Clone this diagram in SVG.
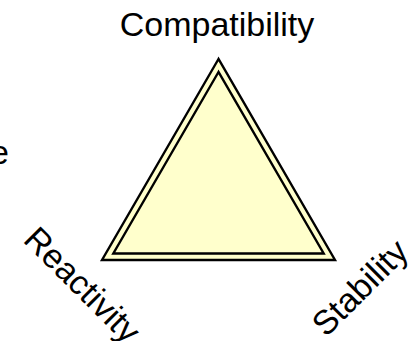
<svg xmlns="http://www.w3.org/2000/svg" width="413" height="341" viewBox="0 0 413 341">
<style>
.lbl{font-family:"Liberation Sans",Arial,sans-serif;font-size:34px;fill:#000}
.tri{fill:#FFFFCC;stroke:#000;stroke-width:2.4;stroke-linejoin:miter}
</style>
<rect width="413" height="341" fill="#fff"/>
<g id="triangle">
<polygon class="tri" points="218.5,59 102,260 335,260"/>
<polygon class="tri" points="218.5,72 113.3,253.5 323.7,253.5"/>
</g>
<g id="label-compatibility"><text class="lbl" x="217" y="36" text-anchor="middle">Compatibility</text></g>
<g id="label-reactivity"><text class="lbl" transform="translate(22,241) rotate(45)">Reactivity</text></g>
<g id="label-stability"><text class="lbl" transform="translate(326,338) rotate(-45)">Stability</text></g>
<g id="label-cut"><text class="lbl" x="9" y="164" text-anchor="end">e</text></g>
</svg>
